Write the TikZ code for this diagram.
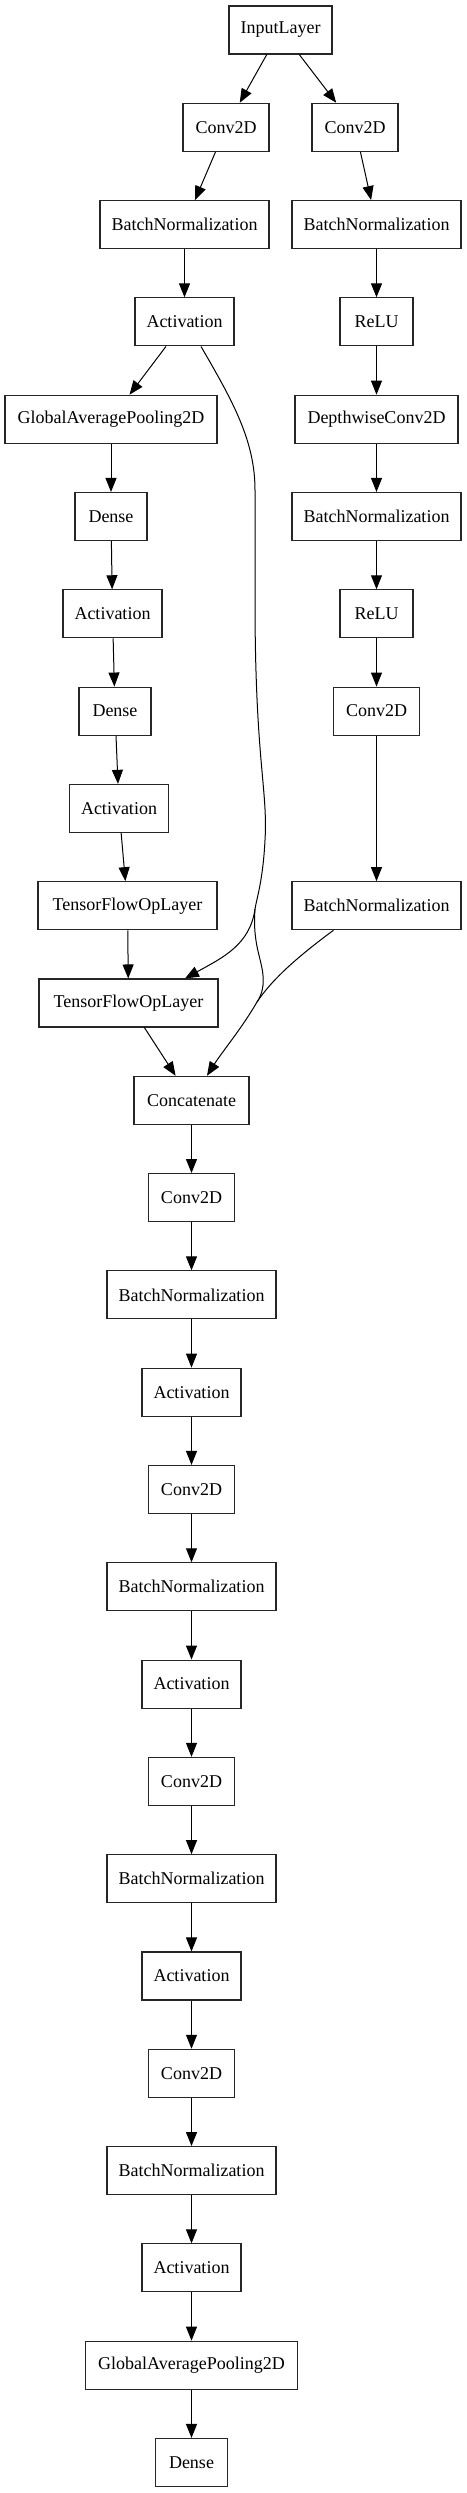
\documentclass[tikz,border=0pt]{standalone}
\usepackage{fontspec}
\setmainfont{Liberation Serif}
\usetikzlibrary{arrows.meta}
\tikzset{
  layer/.style={draw=black!85, line width=1.1pt, rectangle, minimum height=48pt, inner sep=0pt,
    font=\fontsize{18}{20}\selectfont, fill=white},
  edge/.style={draw=black, line width=1pt, -{Triangle[length=14pt,width=11pt]}},
  plain/.style={draw=black, line width=1pt},
}
\begin{document}
\begin{tikzpicture}[x=1pt,y=-1pt]
\useasboundingbox (0,0) rectangle (466,2493);
% nodes
\node[layer, minimum width=103pt] (in) at (280.5,30) {InputLayer};
\node[layer, minimum width=86pt] (cl1) at (226,127.3) {Conv2D};
\node[layer, minimum width=86pt] (cr1) at (355,127.3) {Conv2D};
\node[layer, minimum width=169pt] (bl2) at (184.5,224.6) {BatchNormalization};
\node[layer, minimum width=169pt] (br2) at (376.5,224.6) {BatchNormalization};
\node[layer, minimum width=99pt] (al3) at (184.5,321.9) {Activation};
\node[layer, minimum width=73pt] (rr3) at (376.5,321.9) {ReLU};
\node[layer, minimum width=212pt] (gl4) at (111,419.2) {GlobalAveragePooling2D};
\node[layer, minimum width=163pt] (dr4) at (376.5,419.2) {DepthwiseConv2D};
\node[layer, minimum width=72pt] (dl5) at (111,516.5) {Dense};
\node[layer, minimum width=169pt] (br5) at (376.5,516.5) {BatchNormalization};
\node[layer, minimum width=99pt] (al6) at (112.5,613.8) {Activation};
\node[layer, minimum width=73pt] (rr6) at (376.5,613.8) {ReLU};
\node[layer, minimum width=72pt] (dl7) at (115,711.1) {Dense};
\node[layer, minimum width=86pt] (cr7) at (376.5,711.1) {Conv2D};
\node[layer, minimum width=99pt] (al8) at (119,808.4) {Activation};
\node[layer, minimum width=179pt] (tl9) at (127.5,905.7) {TensorFlowOpLayer};
\node[layer, minimum width=169pt] (br9) at (376.5,905.7) {BatchNormalization};
\node[layer, minimum width=179pt] (tl10) at (128.5,1003) {TensorFlowOpLayer};
\node[layer, minimum width=115pt] (cc11) at (191.5,1100.3) {Concatenate};
\node[layer, minimum width=86pt] (c12) at (191.5,1197.6) {Conv2D};
\node[layer, minimum width=169pt] (b13) at (191.5,1294.9) {BatchNormalization};
\node[layer, minimum width=99pt] (a14) at (191.5,1392.2) {Activation};
\node[layer, minimum width=86pt] (c15) at (191.5,1489.5) {Conv2D};
\node[layer, minimum width=169pt] (b16) at (191.5,1586.8) {BatchNormalization};
\node[layer, minimum width=99pt] (a17) at (191.5,1684.1) {Activation};
\node[layer, minimum width=86pt] (c18) at (191.5,1781.4) {Conv2D};
\node[layer, minimum width=169pt] (b19) at (191.5,1878.7) {BatchNormalization};
\node[layer, minimum width=99pt] (a20) at (191.5,1976) {Activation};
\node[layer, minimum width=86pt] (c21) at (191.5,2073.3) {Conv2D};
\node[layer, minimum width=169pt] (b22) at (191.5,2170.6) {BatchNormalization};
\node[layer, minimum width=99pt] (a23) at (191.5,2267.9) {Activation};
\node[layer, minimum width=212pt] (g24) at (191.5,2365.2) {GlobalAveragePooling2D};
\node[layer, minimum width=72pt] (d25) at (191.5,2462.5) {Dense};
% split / merge points
\coordinate (sp) at (255,909);
\coordinate (mp) at (257,1002);
% straight edges
\draw[edge] (in) -- (cl1);
\draw[edge] (in) -- (cr1);
\draw[edge] (cl1) -- (bl2);
\draw[edge] (cr1) -- (br2);
\draw[edge] (bl2) -- (al3);
\draw[edge] (br2) -- (rr3);
\draw[edge] (al3) -- (gl4);
\draw[edge] (rr3) -- (dr4);
\draw[edge] (gl4) -- (dl5);
\draw[edge] (dr4) -- (br5);
\draw[edge] (dl5) -- (al6);
\draw[edge] (br5) -- (rr6);
\draw[edge] (al6) -- (dl7);
\draw[edge] (rr6) -- (cr7);
\draw[edge] (dl7) -- (al8);
\draw[edge] (cr7) -- (br9);
\draw[edge] (al8) -- (tl9);
\draw[edge] (tl9) -- (tl10);
\draw[edge] (tl10) -- (cc11);
\draw[edge] (cc11) -- (c12);
\draw[edge] (c12) -- (b13);
\draw[edge] (b13) -- (a14);
\draw[edge] (a14) -- (c15);
\draw[edge] (c15) -- (b16);
\draw[edge] (b16) -- (a17);
\draw[edge] (a17) -- (c18);
\draw[edge] (c18) -- (b19);
\draw[edge] (b19) -- (a20);
\draw[edge] (a20) -- (c21);
\draw[edge] (c21) -- (b22);
\draw[edge] (b22) -- (a23);
\draw[edge] (a23) -- (g24);
\draw[edge] (g24) -- (d25);
% curved skip connection
\draw[plain] ([xshift=16.5pt]al3.south) .. controls (232,400) and (255,440) .. (255,490)
  -- (255,600) .. controls (255,760) and (268,790) .. (265,840)
  .. controls (263,880) and (257,897) .. (sp);
\draw[edge] (sp) .. controls (250,945) and (222,958) .. ([xshift=56.5pt]tl10.north);
\draw[plain] (sp) .. controls (252,950) and (265,962) .. (263,985)
  .. controls (262,994) and (259,999) .. (mp);
\draw[plain] ([xshift=-43pt]br9.south) .. controls (300,955) and (273,978) .. (mp);
\draw[edge] (mp) .. controls (242,1028) and (222,1052) .. ([xshift=15.5pt]cc11.north);
\end{tikzpicture}
\end{document}
